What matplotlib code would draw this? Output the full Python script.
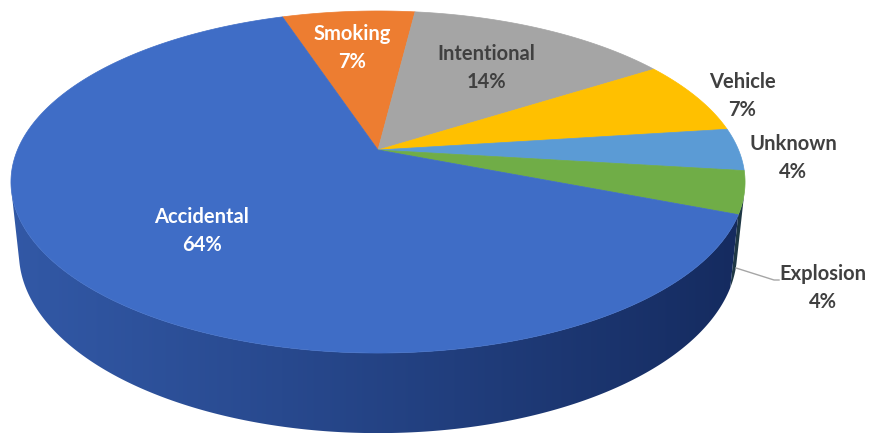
import numpy as np
import matplotlib
matplotlib.use("Agg")
import matplotlib.pyplot as plt
from matplotlib.patches import Polygon
from matplotlib.colors import to_rgb

# Fire causes (share of incidents, %)
categories = ["Smoking", "Intentional", "Vehicle", "Unknown", "Explosion", "Accidental"]
shares = [7, 14, 7, 4, 4, 64]
colors = ["#ED7D31", "#A5A5A5", "#FFC000", "#5B9BD5", "#70AD47", "#3F6DC6"]
label_colors = ["white", "#404040", "#404040", "#404040", "#404040", "white"]

# Label anchor points (pixel space) for each slice
label_pos = [(352, 48), (486, 68), (742, 96), (793, 158), (823, 288), (202, 231)]

W, H = 869, 433
fig = plt.figure(figsize=(W / 100, H / 100), dpi=100)
ax = fig.add_axes([0, 0, 1, 1])
ax.set_xlim(0, W)
ax.set_ylim(H, 0)
ax.axis("off")

# Perspective camera looking down at a unit disc
CX, CY = 378.0, 150.0
SCALE = 1713.0
DIST = 4.751
ELEV = np.radians(27.24)
THICK = 0.222
START = -18.2  # degrees, clockwise from the far side


def project(theta_deg, z):
    t = np.radians(theta_deg)
    se, ce = np.sin(ELEV), np.cos(ELEV)
    vx = np.sin(t)
    vy = np.cos(t) + DIST * ce
    vz = z - DIST * se
    yc = vy * se + vz * ce
    zc = vy * ce - vz * se
    return CX + SCALE * vx / zc, CY - SCALE * yc / zc


def blend(c1, c2, f):
    a, b = np.array(to_rgb(c1)), np.array(to_rgb(c2))
    f = np.asarray(f)[..., None]
    return a * (1 - f) + b * f


SHADOW = "#0a1a45"

bounds = START + np.concatenate([[0], np.cumsum(shares)]) * 3.6

# visible part of the cylinder wall
cut = np.degrees(np.arccos(-1.0 / (DIST * np.cos(ELEV))))
vis_lo, vis_hi = cut, 360 - cut
x_left, _ = project(vis_hi, 0.0)
x_right, _ = project(vis_lo, 0.0)

xs_img = np.arange(W) + 0.5
t_img = np.clip((xs_img - x_left) / (x_right - x_left), 0, 1)
shade = 0.25 + 0.55 * t_img ** 1.1

for i, col in enumerate(colors):
    a, b = bounds[i], bounds[i + 1]
    lo, hi = max(a, vis_lo), min(b, vis_hi)
    if hi <= lo:
        continue
    th = np.linspace(lo, hi, max(3, int((hi - lo) / 0.25) + 1))
    xt, yt = project(th, 0.0)
    xb, yb = project(th[::-1], -THICK)
    pts = np.column_stack([np.concatenate([xt, xb]), np.concatenate([yt, yb])])
    wall = Polygon(pts, closed=True, facecolor="none", edgecolor="none")
    ax.add_patch(wall)
    row = blend(col, SHADOW, shade)
    img = np.repeat(row[None, :, :], H, axis=0)
    im = ax.imshow(img, extent=(0, W, H, 0), interpolation="bilinear", zorder=1)
    im.set_clip_path(wall)

# top faces
for i, col in enumerate(colors):
    a, b = bounds[i], bounds[i + 1]
    th = np.linspace(a, b, max(3, int((b - a) / 0.5) + 1))
    xs, ys = project(th, 0.0)
    pts = np.column_stack([np.concatenate([[CX], xs]), np.concatenate([[CY], ys])])
    ax.add_patch(Polygon(pts, closed=True, facecolor=col, edgecolor=col, lw=0.5, zorder=2))

# leader line for the Explosion label
ax.plot([736, 774, 779], [268, 280, 280], color="#a6a6a6", lw=1.0, zorder=3)

for cat, val, (x, y), tc in zip(categories, shares, label_pos, label_colors):
    ax.text(x, y, f"{cat}\n{val}%", ha="center", va="center", color=tc,
            fontsize=14.5, fontweight="bold", family="Lato", linespacing=1.5, zorder=4)

ax.set_xlim(0, W)
ax.set_ylim(H, 0)
ax.set_aspect("auto")
fig.savefig("out.png", dpi=100)
